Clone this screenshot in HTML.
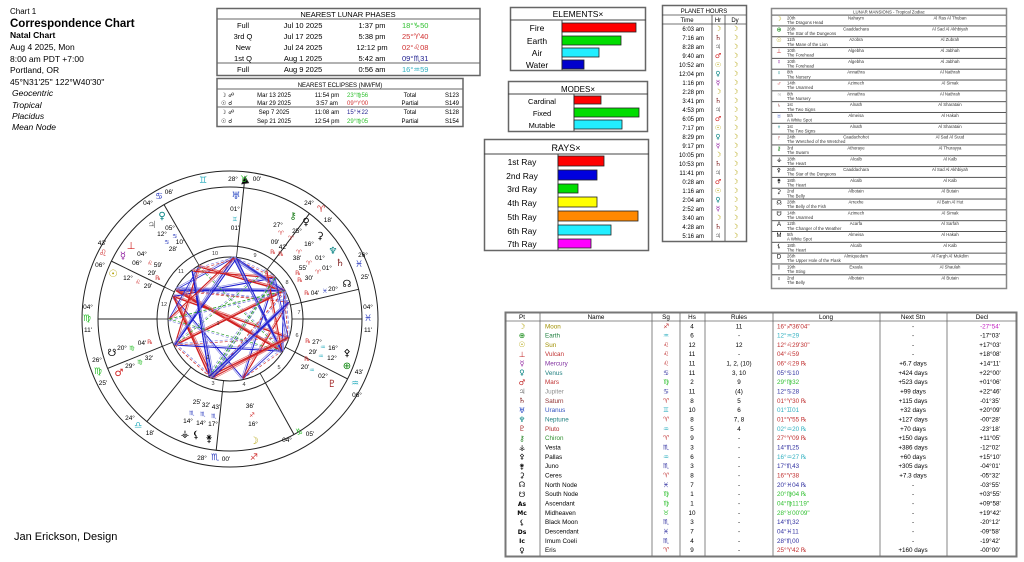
<!DOCTYPE html>
<html><head><meta charset="utf-8"><style>
html,body{margin:0;padding:0;background:#fff;width:1024px;height:562px;overflow:hidden}
svg{display:block;font-family:"Liberation Sans","DejaVu Sans",sans-serif}
.g{font-family:"DejaVu Sans","Liberation Sans",sans-serif}
.c{text-anchor:middle}.r{text-anchor:end}
</style></head><body>
<svg id="s" width="1024" height="562" viewBox="0 0 1024 562">
<!-- Title block -->
<g font-size="8.5" fill="#000">
<text x="10" y="14" font-size="8">Chart 1</text>
<text x="10" y="27" font-size="11.5" font-weight="bold">Correspondence Chart</text>
<text x="10" y="38" font-size="8.5" font-weight="bold">Natal Chart</text>
<text x="10" y="50">Aug 4 2025, Mon</text>
<text x="10" y="62">8:00 am  PDT +7:00</text>
<text x="10" y="73">Portland, OR</text>
<text x="10" y="85">45°N31'25'' 122°W40'30''</text>
<g font-style="italic"><text x="12" y="96">Geocentric</text><text x="12" y="108">Tropical</text><text x="12" y="119">Placidus</text><text x="12" y="130">Mean Node</text></g>
<text x="14" y="540" font-size="11">Jan Erickson, Design</text>
</g>

<!-- Lunar phases -->
<rect x="217" y="8.5" width="263" height="67" fill="#fff" stroke="#666" stroke-width="1.5"/>
<line x1="217" y1="19" x2="480" y2="19" stroke="#666"/>
<line x1="217" y1="63" x2="480" y2="63" stroke="#666"/>
<g font-size="7.5">
<text x="348" y="17" class="c">NEAREST LUNAR PHASES</text>
<text x="243" y="28" class="c">Full</text><text x="303" y="28" class="c">Jul 10 2025</text><text x="372" y="28" class="c">1:37 pm</text><text x="402" y="28" fill="#30c030">18°♑50</text>
<text x="243" y="39" class="c">3rd Q</text><text x="303" y="39" class="c">Jul 17 2025</text><text x="372" y="39" class="c">5:38 pm</text><text x="402" y="39" fill="#d03030">25°♈40</text>
<text x="243" y="50" class="c">New</text><text x="303" y="50" class="c">Jul 24 2025</text><text x="372" y="50" class="c">12:12 pm</text><text x="402" y="50" fill="#d03030">02°♌08</text>
<text x="243" y="61" class="c">1st Q</text><text x="303" y="61" class="c">Aug 1 2025</text><text x="372" y="61" class="c">5:42 am</text><text x="402" y="61" fill="#202090">09°♏31</text>
<text x="243" y="72" class="c">Full</text><text x="303" y="72" class="c">Aug 9 2025</text><text x="372" y="72" class="c">0:56 am</text><text x="402" y="72" fill="#30b0c0">16°♒59</text>
</g>
<!-- Eclipses -->
<rect x="217" y="78.5" width="246" height="48" fill="#fff" stroke="#666" stroke-width="1.5"/>
<line x1="217" y1="89" x2="463" y2="89" stroke="#666"/>
<line x1="217" y1="107" x2="463" y2="107" stroke="#666"/>
<g font-size="6">
<text x="340" y="87" class="c">NEAREST ECLIPSES (NM/FM)</text>
<text x="221" y="97" class="g">☽ ☍</text><text x="274" y="97" class="c">Mar 13 2025</text><text x="327" y="97" class="c">11:54 pm</text><text x="347" y="97" fill="#30c030">23°♍56</text><text x="410" y="97" class="c">Total</text><text x="452" y="97" class="c">S123</text>
<text x="221" y="105" class="g">☉ ☌</text><text x="274" y="105" class="c">Mar 29 2025</text><text x="327" y="105" class="c">3:57 am</text><text x="347" y="105" fill="#d03030">09°♈00</text><text x="410" y="105" class="c">Partial</text><text x="452" y="105" class="c">S149</text>
<text x="221" y="114" class="g">☽ ☍</text><text x="274" y="114" class="c">Sep 7 2025</text><text x="327" y="114" class="c">11:08 am</text><text x="347" y="114" fill="#202090">15°♓22</text><text x="410" y="114" class="c">Total</text><text x="452" y="114" class="c">S128</text>
<text x="221" y="123" class="g">☉ ☌</text><text x="274" y="123" class="c">Sep 21 2025</text><text x="327" y="123" class="c">12:54 pm</text><text x="347" y="123" fill="#30c030">29°♍05</text><text x="410" y="123" class="c">Partial</text><text x="452" y="123" class="c">S154</text>
</g>

<!-- Elements -->
<g stroke="#666" stroke-width="1.5" fill="#fff">
<rect x="510.5" y="7.5" width="135" height="63"/><rect x="508.5" y="81.5" width="139" height="50"/><rect x="484.5" y="139.5" width="164" height="111"/>
</g>
<g stroke="#444" stroke-width="1">
<line x1="510" y1="20" x2="646" y2="20"/><line x1="562" y1="20" x2="562" y2="70"/>
<line x1="508" y1="94" x2="648" y2="94"/><line x1="574" y1="94" x2="574" y2="131"/>
<line x1="484" y1="154" x2="649" y2="154"/><line x1="558" y1="154" x2="558" y2="250"/>
</g>
<g stroke="#222" stroke-width="0.8">
<rect x="562" y="23" width="74" height="9" fill="#f00"/><rect x="562" y="36" width="59" height="9" fill="#0d0"/><rect x="562" y="48" width="37" height="9" fill="#2ef"/><rect x="562" y="60" width="22" height="9" fill="#00c"/>
<rect x="574" y="96" width="27" height="8" fill="#f00"/><rect x="574" y="108" width="65" height="9" fill="#0d0"/><rect x="574" y="120" width="48" height="9" fill="#2ef"/>
<rect x="558" y="156" width="46" height="10" fill="#f00"/><rect x="558" y="170" width="39" height="10" fill="#00d"/><rect x="558" y="184" width="20" height="9" fill="#0d0"/><rect x="558" y="197" width="39" height="10" fill="#ff0"/><rect x="558" y="211" width="80" height="10" fill="#f80"/><rect x="558" y="225" width="53" height="10" fill="#2ef"/><rect x="558" y="239" width="33" height="9" fill="#f0f"/>
</g>
<g font-size="8.5">
<text x="578" y="17" class="c">ELEMENTS×</text>
<text x="537" y="31" class="c">Fire</text><text x="537" y="44" class="c">Earth</text><text x="537" y="56" class="c">Air</text><text x="537" y="68" class="c">Water</text>
<text x="578" y="92" class="c" font-size="8">MODES×</text>
<g font-size="7.5"><text x="542" y="104" class="c">Cardinal</text><text x="542" y="116" class="c">Fixed</text><text x="542" y="128" class="c">Mutable</text></g>
<text x="566" y="151" class="c" font-size="9">RAYS×</text>
<text x="522" y="165" class="c">1st Ray</text><text x="522" y="179" class="c">2nd Ray</text><text x="522" y="192" class="c">3rd Ray</text><text x="522" y="206" class="c">4th Ray</text><text x="522" y="220" class="c">5th Ray</text><text x="522" y="234" class="c">6th Ray</text><text x="522" y="247" class="c">7th Ray</text>
</g>

<!-- Planet hours -->
<rect x="662.5" y="5.5" width="84" height="236" fill="#fff" stroke="#666" stroke-width="1.5"/>
<g stroke="#444" stroke-width="0.8"><line x1="662" y1="15" x2="746" y2="15"/><line x1="662" y1="24" x2="746" y2="24"/><line x1="712" y1="15" x2="712" y2="241"/><line x1="725" y1="15" x2="725" y2="241"/></g>
<g font-size="6">
<text x="704" y="13" class="c">PLANET HOURS</text><text x="687" y="22" class="c">Time</text><text x="718" y="22" class="c">Hr</text><text x="735" y="22" class="c">Dy</text>
<g class="r">
<text x="704" y="31">6:03 am</text><text x="704" y="40">7:16 am</text><text x="704" y="49">8:28 am</text><text x="704" y="58">9:40 am</text><text x="704" y="67">10:52 am</text><text x="704" y="76">12:04 pm</text><text x="704" y="85">1:16 pm</text><text x="704" y="94">2:28 pm</text><text x="704" y="103">3:41 pm</text><text x="704" y="112">4:53 pm</text><text x="704" y="121">6:05 pm</text><text x="704" y="130">7:17 pm</text><text x="704" y="139">8:29 pm</text><text x="704" y="148">9:17 pm</text><text x="704" y="157">10:05 pm</text><text x="704" y="166">10:53 pm</text><text x="704" y="175">11:41 pm</text><text x="704" y="184">0:28 am</text><text x="704" y="193">1:16 am</text><text x="704" y="202">2:04 am</text><text x="704" y="211">2:52 am</text><text x="704" y="220">3:40 am</text><text x="704" y="229">4:28 am</text><text x="704" y="238">5:16 am</text>
</g>
<g class="g c" font-size="7">
<text x="718" y="31" fill="#b0a000">☽</text><text x="718" y="40" fill="#802020">♄</text><text x="718" y="49" fill="#808080">♃</text><text x="718" y="58" fill="#d02020">♂</text><text x="718" y="67" fill="#b0a000">☉</text><text x="718" y="76" fill="#008080">♀</text><text x="718" y="85" fill="#9020a0">☿</text>
<text x="718" y="94" fill="#b0a000">☽</text><text x="718" y="103" fill="#802020">♄</text><text x="718" y="112" fill="#808080">♃</text><text x="718" y="121" fill="#d02020">♂</text><text x="718" y="130" fill="#b0a000">☉</text><text x="718" y="139" fill="#008080">♀</text><text x="718" y="148" fill="#9020a0">☿</text>
<text x="718" y="157" fill="#b0a000">☽</text><text x="718" y="166" fill="#802020">♄</text><text x="718" y="175" fill="#808080">♃</text><text x="718" y="184" fill="#d02020">♂</text><text x="718" y="193" fill="#b0a000">☉</text><text x="718" y="202" fill="#008080">♀</text><text x="718" y="211" fill="#9020a0">☿</text>
<text x="718" y="220" fill="#b0a000">☽</text><text x="718" y="229" fill="#802020">♄</text><text x="718" y="238" fill="#808080">♃</text>
</g>
<g class="g c" font-size="7" fill="#b0a000">
<text x="735" y="31">☽</text><text x="735" y="40">☽</text><text x="735" y="49">☽</text><text x="735" y="58">☽</text><text x="735" y="67">☽</text><text x="735" y="76">☽</text><text x="735" y="85">☽</text><text x="735" y="94">☽</text><text x="735" y="103">☽</text><text x="735" y="112">☽</text><text x="735" y="121">☽</text><text x="735" y="130">☽</text><text x="735" y="139">☽</text><text x="735" y="148">☽</text><text x="735" y="157">☽</text><text x="735" y="166">☽</text><text x="735" y="175">☽</text><text x="735" y="184">☽</text><text x="735" y="193">☽</text><text x="735" y="202">☽</text><text x="735" y="211">☽</text><text x="735" y="220">☽</text><text x="735" y="229">☽</text><text x="735" y="238">☽</text>
</g>
</g>

<!-- Lunar mansions -->
<rect x="771.5" y="8.5" width="235" height="280" fill="#fff" stroke="#888" stroke-width="1.5"/>
<g id="lm" font-size="4.3" fill="#333">
<text x="889" y="13.5" class="c">LUNAR MANSIONS - Tropical Zodiac</text>
</g>

<!-- Data table -->
<rect x="505.5" y="312.5" width="511" height="244" fill="#fff" stroke="#777" stroke-width="2"/>
<g stroke="#666" stroke-width="0.8"><line x1="505" y1="321" x2="1017" y2="321"/>
<line x1="540" y1="313" x2="540" y2="556"/><line x1="652" y1="313" x2="652" y2="556"/><line x1="680" y1="313" x2="680" y2="556"/><line x1="705" y1="313" x2="705" y2="556"/><line x1="773" y1="313" x2="773" y2="556"/><line x1="880" y1="313" x2="880" y2="556"/><line x1="947" y1="313" x2="947" y2="556"/></g>
<g font-size="6.3">
<text x="522" y="319" class="c">Pt</text><text x="596" y="319" class="c">Name</text><text x="666" y="319" class="c">Sg</text><text x="692" y="319" class="c">Hs</text><text x="739" y="319" class="c">Rules</text><text x="826" y="319" class="c">Long</text><text x="913" y="319" class="c">Next Stn</text><text x="982" y="319" class="c">Decl</text>
<!-- Pt glyphs -->
<g class="g c" font-size="7.5">
<text x="522" y="329" fill="#b0a000">☽</text><text x="522" y="338" fill="#008000">⊕</text><text x="522" y="347" fill="#b0a000">☉</text><text x="522" y="357" fill="#c02020">⊥</text><text x="522" y="366" fill="#9020a0">☿</text><text x="522" y="375" fill="#008080">♀</text><text x="522" y="385" fill="#c02020">♂</text><text x="522" y="394" fill="#808080">♃</text><text x="522" y="403" fill="#802020">♄</text><text x="522" y="413" fill="#2040c0">♅</text><text x="522" y="422" fill="#008080">♆</text><text x="522" y="431" fill="#a02020">♇</text><text x="522" y="441" fill="#208020">⚷</text><text x="522" y="450">⚶</text><text x="522" y="459">⚴</text><text x="522" y="469">⚵</text><text x="522" y="478">⚳</text><text x="522" y="487">☊</text><text x="522" y="497">☋</text><text x="522" y="506" font-size="6" font-weight="bold">As</text><text x="522" y="515" font-size="6" font-weight="bold">Mc</text><text x="522" y="525">⚸</text><text x="522" y="534" font-size="6" font-weight="bold">Ds</text><text x="522" y="543" font-size="6" font-weight="bold">Ic</text><text x="522" y="553">♀</text>
</g>
<g>
<text x="545" y="328.5" fill="#a09000">Moon</text><text x="545" y="337.5" fill="#208040">Earth</text><text x="545" y="347" fill="#a09000">Sun</text><text x="545" y="356" fill="#c03030">Vulcan</text><text x="545" y="365.5" fill="#8030a0">Mercury</text><text x="545" y="375" fill="#208080">Venus</text><text x="545" y="384" fill="#c03030">Mars</text><text x="545" y="393.5" fill="#909090">Jupiter</text><text x="545" y="403" fill="#903030">Saturn</text><text x="545" y="412" fill="#3050c0">Uranus</text><text x="545" y="421.5" fill="#208080">Neptune</text><text x="545" y="431" fill="#b03030">Pluto</text><text x="545" y="440" fill="#309030">Chiron</text><text x="545" y="449.5">Vesta</text><text x="545" y="459">Pallas</text><text x="545" y="468">Juno</text><text x="545" y="477.5">Ceres</text><text x="545" y="487">North Node</text><text x="545" y="496">South Node</text><text x="545" y="505.5">Ascendant</text><text x="545" y="515">Midheaven</text><text x="545" y="524">Black Moon</text><text x="545" y="533.5">Descendant</text><text x="545" y="543">Imum Coeli</text><text x="545" y="552">Eris</text>
</g>
<g class="g c" font-size="6.5">
<text x="666" y="328.5" fill="#c03030">♐</text><text x="666" y="337.5" fill="#30b0c0">♒</text><text x="666" y="347" fill="#c03030">♌</text><text x="666" y="356" fill="#c03030">♌</text><text x="666" y="365.5" fill="#c03030">♌</text><text x="666" y="375" fill="#3030a0">♋</text><text x="666" y="384" fill="#30c030">♍</text><text x="666" y="393.5" fill="#3030a0">♋</text><text x="666" y="403" fill="#c03030">♈</text><text x="666" y="412" fill="#30b0c0">♊</text><text x="666" y="421.5" fill="#c03030">♈</text><text x="666" y="431" fill="#30b0c0">♒</text><text x="666" y="440" fill="#c03030">♈</text><text x="666" y="449.5" fill="#3030a0">♏</text><text x="666" y="459" fill="#30b0c0">♒</text><text x="666" y="468" fill="#3030a0">♏</text><text x="666" y="477.5" fill="#c03030">♈</text><text x="666" y="487" fill="#3030a0">♓</text><text x="666" y="496" fill="#30c030">♍</text><text x="666" y="505.5" fill="#30c030">♍</text><text x="666" y="515" fill="#30c030">♉</text><text x="666" y="524" fill="#3030a0">♏</text><text x="666" y="533.5" fill="#3030a0">♓</text><text x="666" y="543" fill="#3030a0">♏</text><text x="666" y="552" fill="#c03030">♈</text>
</g>
<g class="c">
<text x="692" y="328.5">4</text><text x="692" y="337.5">6</text><text x="692" y="347">12</text><text x="692" y="356">11</text><text x="692" y="365.5">11</text><text x="692" y="375">11</text><text x="692" y="384">2</text><text x="692" y="393.5">11</text><text x="692" y="403">8</text><text x="692" y="412">10</text><text x="692" y="421.5">8</text><text x="692" y="431">5</text><text x="692" y="440">9</text><text x="692" y="449.5">3</text><text x="692" y="459">6</text><text x="692" y="468">3</text><text x="692" y="477.5">8</text><text x="692" y="487">7</text><text x="692" y="496">1</text><text x="692" y="505.5">1</text><text x="692" y="515">10</text><text x="692" y="524">3</text><text x="692" y="533.5">7</text><text x="692" y="543">4</text><text x="692" y="552">9</text>
<text x="739" y="328.5">11</text><text x="739" y="337.5">-</text><text x="739" y="347">12</text><text x="739" y="356">-</text><text x="739" y="365.5">1, 2, (10)</text><text x="739" y="375">3, 10</text><text x="739" y="384">9</text><text x="739" y="393.5">(4)</text><text x="739" y="403">5</text><text x="739" y="412">6</text><text x="739" y="421.5">7, 8</text><text x="739" y="431">4</text><text x="739" y="440">-</text><text x="739" y="449.5">-</text><text x="739" y="459">-</text><text x="739" y="468">-</text><text x="739" y="477.5">-</text><text x="739" y="487">-</text><text x="739" y="496">-</text><text x="739" y="505.5">-</text><text x="739" y="515">-</text><text x="739" y="524">-</text><text x="739" y="533.5">-</text><text x="739" y="543">-</text><text x="739" y="552">-</text>
<text x="913" y="328.5">-</text><text x="913" y="337.5">-</text><text x="913" y="347">-</text><text x="913" y="356">-</text><text x="913" y="365.5">+6.7 days</text><text x="913" y="375">+424 days</text><text x="913" y="384">+523 days</text><text x="913" y="393.5">+99 days</text><text x="913" y="403">+115 days</text><text x="913" y="412">+32 days</text><text x="913" y="421.5">+127 days</text><text x="913" y="431">+70 days</text><text x="913" y="440">+150 days</text><text x="913" y="449.5">+386 days</text><text x="913" y="459">+60 days</text><text x="913" y="468">+305 days</text><text x="913" y="477.5">+7.3 days</text><text x="913" y="487">-</text><text x="913" y="496">-</text><text x="913" y="505.5">-</text><text x="913" y="515">-</text><text x="913" y="524">-</text><text x="913" y="533.5">-</text><text x="913" y="543">-</text><text x="913" y="552">+160 days</text>
<text x="990" y="328.5" fill="#c020c0">-27°54'</text><text x="990" y="337.5">-17°03'</text><text x="990" y="347">+17°03'</text><text x="990" y="356">+18°08'</text><text x="990" y="365.5">+14°11'</text><text x="990" y="375">+22°00'</text><text x="990" y="384">+01°06'</text><text x="990" y="393.5">+22°46'</text><text x="990" y="403">-01°35'</text><text x="990" y="412">+20°09'</text><text x="990" y="421.5">-00°28'</text><text x="990" y="431">-23°18'</text><text x="990" y="440">+11°05'</text><text x="990" y="449.5">-12°02'</text><text x="990" y="459">+15°10'</text><text x="990" y="468">-04°01'</text><text x="990" y="477.5">-05°32'</text><text x="990" y="487">-03°55'</text><text x="990" y="496">+03°55'</text><text x="990" y="505.5">+09°58'</text><text x="990" y="515">+19°42'</text><text x="990" y="524">-20°12'</text><text x="990" y="533.5">-09°58'</text><text x="990" y="543">-19°42'</text><text x="990" y="552">-00°00'</text>
</g>
<g>
<text x="777" y="328.5" fill="#c03030">16°♐36'04"</text><text x="777" y="337.5" fill="#30b0c0">12°♒29</text><text x="777" y="347" fill="#c03030">12°♌29'30"</text><text x="777" y="356" fill="#c03030">04°♌59</text><text x="777" y="365.5" fill="#c03030">06°♌29 ℞</text><text x="777" y="375" fill="#3030a0">05°♋10</text><text x="777" y="384" fill="#30c030">29°♍32</text><text x="777" y="393.5" fill="#3030a0">12°♋28</text><text x="777" y="403" fill="#c03030">01°♈30 ℞</text><text x="777" y="412" fill="#30b0c0">01°♊01</text><text x="777" y="421.5" fill="#c03030">01°♈55 ℞</text><text x="777" y="431" fill="#30b0c0">02°♒20 ℞</text><text x="777" y="440" fill="#c03030">27°♈09 ℞</text><text x="777" y="449.5" fill="#3030a0">14°♏25</text><text x="777" y="459" fill="#30b0c0">16°♒27 ℞</text><text x="777" y="468" fill="#3030a0">17°♏43</text><text x="777" y="477.5" fill="#c03030">16°♈38</text><text x="777" y="487" fill="#3030a0">20°♓04 ℞</text><text x="777" y="496" fill="#30c030">20°♍04 ℞</text><text x="777" y="505.5" fill="#30c030">04°♍11'19"</text><text x="777" y="515" fill="#30c030">28°♉00'09"</text><text x="777" y="524" fill="#3030a0">14°♏32</text><text x="777" y="533.5" fill="#3030a0">04°♓11</text><text x="777" y="543" fill="#3030a0">28°♏00</text><text x="777" y="552" fill="#c03030">25°♈42 ℞</text>
</g>
</g>

<!-- Wheel -->
<g fill="none" stroke="#222" stroke-width="1">
<circle cx="230" cy="319" r="148"/><circle cx="230" cy="319" r="132"/><circle cx="230" cy="319" r="73"/><circle cx="230" cy="319" r="62"/>
</g>
<g id="cusps" stroke="#222" stroke-width="1"></g>
<g id="asp" stroke-width="1" fill="none"></g>
<g font-size="5.5" fill="#333" class="c">
<text x="218" y="325">1</text><text x="208" y="359">2</text><text x="213" y="385">3</text><text x="244" y="386">4</text><text x="279" y="369">5</text><text x="297" y="337">6</text><text x="299" y="314">7</text><text x="287" y="284">8</text><text x="255" y="257">9</text><text x="215" y="255">10</text><text x="181" y="273">11</text><text x="164" y="306">12</text>
</g>
<g font-size="6.5" class="c" fill="#000">
<text x="233" y="181">28°</text><text x="257" y="181">00'</text><text x="169" y="194">06'</text><text x="148" y="205">04°</text><text x="102" y="245">43'</text><text x="100" y="267">06°</text><text x="88" y="309">04°</text><text x="88" y="332">11'</text><text x="97" y="362">26°</text><text x="103" y="385">25'</text><text x="130" y="420">24°</text><text x="150" y="435">18'</text><text x="202" y="460">28°</text><text x="226" y="461">00'</text><text x="287" y="442">04°</text><text x="310" y="436">05'</text><text x="359" y="374">43'</text><text x="357" y="397">06°</text><text x="368" y="309">04°</text><text x="368" y="332">11'</text><text x="363" y="257">26°</text><text x="365" y="279">25'</text><text x="309" y="205">24°</text><text x="328" y="222">18'</text>
<text x="235" y="211">01°</text><text x="235" y="230">01'</text><text x="170" y="230">05°</text><text x="162" y="236">12°</text><text x="180" y="244">10'</text><text x="173" y="251">28'</text>
<text x="142" y="256">04°</text><text x="137" y="265">06°</text><text x="158" y="267">59'</text><text x="152" y="275">29'</text><text x="128" y="280">12°</text><text x="148" y="288">29'</text>
<text x="122" y="350">20°</text><text x="142" y="345">04'</text><text x="130" y="368">29°</text><text x="149" y="360">32'</text>
<text x="278" y="227">27°</text><text x="297" y="233">25°</text><text x="275" y="244">09'</text><text x="283" y="249">42'</text><text x="309" y="246">16°</text><text x="297" y="260">38'</text><text x="320" y="260">01°</text><text x="303" y="270">55'</text><text x="327" y="270">01°</text><text x="309" y="280">30'</text><text x="333" y="291">20°</text><text x="315" y="295">04'</text>
<text x="333" y="350">16°</text><text x="317" y="344">27°</text><text x="313" y="354">29'</text><text x="332" y="360">12°</text><text x="323" y="378">02°</text><text x="305" y="369">20'</text>
<text x="250" y="408">36'</text><text x="253" y="426">16°</text><text x="188" y="423">14°</text><text x="201" y="425">14°</text><text x="213" y="426">17°</text><text x="197" y="404">25'</text><text x="206" y="407">32'</text><text x="216" y="409">43'</text>
</g>
<g class="g c" font-size="8">
<text x="244" y="182" fill="#30c030" font-size="9">♉</text><text x="203" y="183" fill="#30b0c0" font-size="9">♊</text><text x="159" y="199" fill="#3040c0" font-size="9">♋</text><text x="103" y="256" fill="#d03030" font-size="9">♌</text><text x="87" y="321" fill="#30c030" font-size="9">♍</text><text x="98" y="374" fill="#30c030" font-size="9">♍</text><text x="138" y="428" fill="#30b0c0" font-size="9">♎</text><text x="215" y="460" fill="#3040c0" font-size="9">♏</text><text x="254" y="460" fill="#d03030" font-size="9">♐</text><text x="299" y="435" fill="#30c030" font-size="9">♑</text><text x="355" y="386" fill="#30b0c0" font-size="9">♒</text><text x="368" y="321" fill="#3040c0" font-size="9">♓</text><text x="359" y="267" fill="#3040c0" font-size="9">♓</text><text x="321" y="212" fill="#d03030" font-size="9">♈</text>
<g font-size="10">
<text x="236" y="199" fill="#2040c0">♅</text><text x="162" y="219" fill="#008080">♀</text><text x="152" y="228" fill="#808080">♃</text><text x="131" y="249" fill="#d02020">⊥</text><text x="123" y="259" fill="#9020a0">☿</text><text x="113" y="277" fill="#b0a000">☉</text><text x="112" y="356" fill="#000">☋</text><text x="119" y="376" fill="#d02020">♂</text><text x="293" y="219" fill="#208020">⚷</text><text x="306" y="225" fill="#000">♀</text><text x="320" y="239" fill="#000">⚳</text><text x="333" y="254" fill="#008080">♆</text><text x="340" y="266" fill="#802020">♄</text><text x="347" y="287" fill="#000">☊</text><text x="347" y="356" fill="#000">⚴</text><text x="347" y="369" fill="#008000">⊕</text><text x="332" y="387" fill="#a02020">♇</text><text x="254" y="444" fill="#b0a000">☽</text><text x="185" y="437" fill="#000">⚶</text><text x="196" y="438" fill="#000">⚸</text><text x="209" y="442" fill="#000">⚵</text>
</g>
<g font-size="6">
<text x="235" y="221" fill="#30b0c0">♊</text><text x="175" y="238" fill="#3040c0">♋</text><text x="167" y="244" fill="#3040c0">♋</text><text x="150" y="265" fill="#d03030">♌</text><text x="138" y="284" fill="#d03030">♌</text><text x="158" y="280" fill="#d03030">℞</text><text x="132" y="350" fill="#30c030">♍</text><text x="150" y="344" fill="#d03030">℞</text><text x="140" y="364" fill="#30c030">♍</text>
<text x="281" y="235" fill="#d03030">♈</text><text x="291" y="240" fill="#d03030">♈</text><text x="273" y="254" fill="#d03030">℞</text><text x="281" y="256" fill="#d03030">℞</text><text x="299" y="254" fill="#d03030">♈</text><text x="309" y="265" fill="#d03030">♈</text><text x="298" y="275" fill="#d03030">℞</text><text x="318" y="274" fill="#d03030">♈</text><text x="300" y="282" fill="#d03030">℞</text><text x="325" y="293" fill="#3040c0">♓</text><text x="307" y="295" fill="#d03030">℞</text>
<text x="323" y="349" fill="#30b0c0">♒</text><text x="308" y="343" fill="#d03030">℞</text><text x="321" y="358" fill="#30b0c0">♒</text><text x="312" y="372" fill="#30b0c0">♒</text><text x="307" y="361" fill="#d03030">℞</text>
<text x="252" y="417" fill="#d03030">♐</text><text x="192" y="415" fill="#3040c0">♏</text><text x="203" y="416" fill="#3040c0">♏</text><text x="214" y="418" fill="#3040c0">♏</text>
</g>
</g>
</svg>
<script>
(function(){
var NS="http://www.w3.org/2000/svg",cx=230,cy=319,asc=154.19;
function pt(lon,r){var a=(180+lon-asc)*Math.PI/180;return [cx+r*Math.cos(a),cy-r*Math.sin(a)];}
function ln(g,p,q,col,w,d){var l=document.createElementNS(NS,"line");l.setAttribute("x1",p[0]);l.setAttribute("y1",p[1]);l.setAttribute("x2",q[0]);l.setAttribute("y2",q[1]);l.setAttribute("stroke",col);l.setAttribute("stroke-width",w);if(d)l.setAttribute("stroke-dasharray",d);g.appendChild(l);}
var cg=document.getElementById("cusps");
var cusps=[180,202,231,264,299,333,0,13,53,84,120,154];
cusps.forEach(function(a,i){var r=a*Math.PI/180;var r1=(i==0||i==6)?132:132;var p=[cx+73*Math.cos(r),cy-73*Math.sin(r)],q=[cx+r1*Math.cos(r),cy-r1*Math.sin(r)];
 if(i==9){q=[cx+140*Math.cos(r),cy-140*Math.sin(r)];}
 ln(cg,p,q,"#222",1);
 var p2=[cx+62*Math.cos(r),cy-62*Math.sin(r)];ln(cg,p2,p,"#222",0.8);});
var ar=84*Math.PI/180,tip=[cx+143*Math.cos(ar),cy-143*Math.sin(ar)];
var tri=document.createElementNS(NS,"polygon");tri.setAttribute("points",tip[0]+","+tip[1]+" "+(tip[0]-3)+","+(tip[1]+7)+" "+(tip[0]+3.5)+","+(tip[1]+6));tri.setAttribute("fill","#000");cg.appendChild(tri);
var P=[256.6,132.5,125,126.5,95.2,179.5,102.5,1.5,61,1.9,302.3,27.15,224.4,316.45,227.7,16.6,350.07,154.19,58,224.5,25.7];
var g=document.getElementById("asp");
for(var i=0;i<P.length;i++)for(var j=i+1;j<P.length;j++){
 var d=Math.abs(P[i]-P[j]);if(d>180)d=360-d;
 var col=null,w=1,da=null;
 if(Math.abs(d-180)<7){col="#d02020";w=1.4;}
 else if(Math.abs(d-90)<6){col="#d02020";w=1.2;}
 else if(Math.abs(d-120)<6){col="#2020d0";w=1.1;}
 else if(Math.abs(d-60)<5){col="#3030d0";w=0.9;}
 else if(Math.abs(d-150)<3){col="#30a030";w=0.7;da="3,2";}
 else if(Math.abs(d-45)<2||Math.abs(d-135)<2){col="#d04040";w=0.7;da="3,2";}
 if(col){var a=pt(P[i],61),b=pt(P[j],61);ln(g,a,b,col,w,da);
  var ox=(b[1]-a[1]),oy=-(b[0]-a[0]),L=Math.hypot(ox,oy)||1;ox=ox/L*1.6;oy=oy/L*1.6;
  ln(g,[a[0]+ox,a[1]+oy],[b[0]+ox,b[1]+oy],col==="#d02020"?"#e06060":"#8080e0",0.6,da);}
}
})();
</script>
<script>
(function(){
var NS="http://www.w3.org/2000/svg";
var g=document.getElementById("lm");
var rows=[["☽","#b0a000","20th","The Dragons Head","Nahaym","Al Ras Al Thuban"],["⊕","#008000","26th","The Star of the Dungeons","Caaddachara","Al Sad Al Akhbiyah"],["☉","#b0a000","11th","The Mane of the Lion","Azobra","Al Zubrah"],["⊥","#c02020","10th","The Forehead","Algebha","Al Jabhah"],["☿","#9020a0","10th","The Forehead","Algebha","Al Jabhah"],["♀","#008080","8th","The Nursery","Annathra","Al Nathrah"],["♂","#c02020","14th","The Unarmed","Azimech","Al Simak"],["♃","#808080","8th","The Nursery","Annathra","Al Nathrah"],["♄","#802020","1st","The Two Signs","Alnath","Al Sharatain"],["♅","#2040c0","5th","A White Spot","Almeisa","Al Hakah"],["♆","#008080","1st","The Two Signs","Alnath","Al Sharatain"],["♇","#a02020","24th","The Wretched of the Wretched","Caadachohot","Al Sad Al Suud"],["⚷","#208020","3rd","The Swarm","Athoraye","Al Thurayya"],["⚶","#000","18th","The Heart","Alcalb","Al Kalb"],["⚴","#000","26th","The Star of the Dungeons","Caaddachara","Al Sad Al Akhbiyah"],["⚵","#000","18th","The Heart","Alcalb","Al Kalb"],["⚳","#000","2nd","The Belly","Albotain","Al Butain"],["☊","#000","28th","The Belly of the Fish","Arrexhe","Al Batn Al Hut"],["☋","#000","14th","The Unarmed","Azimech","Al Simak"],["A","#000","12th","The Changer of the Weather","Acarfa","Al Sarfah"],["M","#000","5th","A White Spot","Almeisa","Al Hakah"],["⚸","#000","18th","The Heart","Alcalb","Al Kalb"],["D","#000","26th","The Upper Hole of the Flask","Almiquedam","Al Fargh Al Mukdim"],["I","#000","19th","The Sting","Exaula","Al Shaulah"],["♀","#000","2nd","The Belly","Albotain","Al Butain"]];
function t(x,y,s,c,anchor,fs){var e=document.createElementNS(NS,"text");e.setAttribute("x",x);e.setAttribute("y",y);if(c)e.setAttribute("fill",c);if(anchor)e.setAttribute("text-anchor",anchor);if(fs)e.setAttribute("font-size",fs);e.textContent=s;g.appendChild(e);}
rows.forEach(function(r,i){var y=14.6+i*10.82;
 var l=document.createElementNS(NS,"rect");l.setAttribute("x",772);l.setAttribute("y",y);l.setAttribute("width",234);l.setAttribute("height",1);l.setAttribute("fill","#555");g.appendChild(l);
 t(779,y+6,r[0],r[1],"middle","6");t(787,y+5,r[2]);t(787,y+9.6,r[3]);t(856,y+5,r[4],null,"middle");t(950,y+5,r[5],null,"middle");});
})();
</script>
</body></html>
